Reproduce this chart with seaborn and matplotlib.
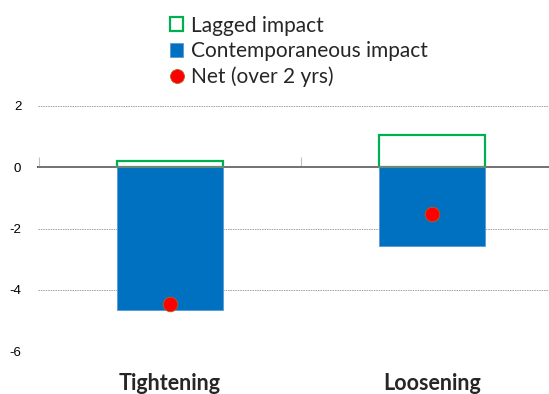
import matplotlib
matplotlib.use("Agg")
import matplotlib.pyplot as plt
from matplotlib.patches import Patch
from matplotlib.lines import Line2D
import seaborn as sns
import pandas as pd

categories = ["Tightening", "Loosening"]
contemporaneous = [-4.67, -2.58]
lagged = [0.20, 1.06]
net = [-4.47, -1.52]
y_ticks = [-6, -4, -2, 0, 2]

BLUE = "#0070C0"
GREEN = "#00B050"
RED = "#FF0000"

df = pd.DataFrame({"category": categories, "contemporaneous": contemporaneous,
                   "lagged": lagged, "net": net})

sns.set_theme(style="white")
plt.rcParams["font.family"] = ["Liberation Sans", "DejaVu Sans"]

fig = plt.figure(figsize=(5.49, 3.94), dpi=100)
ax = fig.add_axes([0.069, 0.109, 0.931, 0.622])

# dotted horizontal gridlines
for v in y_ticks:
    if v != 0:
        ax.axhline(v, color="#A0A0A0", lw=0.7, ls=(0, (1.5, 1)), zorder=0)

sns.barplot(data=df, x="category", y="contemporaneous", color=BLUE, width=0.405,
            saturation=1, edgecolor="#5B9BD5", linewidth=0.6, ax=ax, zorder=2)
sns.barplot(data=df, x="category", y="lagged", width=0.405, fill=False,
            color=GREEN, edgecolor=GREEN, linewidth=1.6, ax=ax, zorder=3)
sns.scatterplot(data=df, x="category", y="net", color=RED, s=110,
                edgecolor="#B06020", linewidth=0.6, ax=ax, zorder=5)

ax.axhline(0, color="#808080", lw=1.2, zorder=4)

ax.set_ylim(-6, 2)
ax.set_xlim(-0.504, 1.447)
ax.set_yticks(y_ticks)
ax.set_yticklabels([str(v) for v in y_ticks], fontsize=9.5, color="#000000")
ax.tick_params(axis="y", length=0, pad=12)
ax.set_xticks([0, 1])
ax.set_xticklabels(categories, fontsize=15.5, fontweight="bold",
                   family=["Lato", "DejaVu Sans"])
ax.tick_params(axis="x", length=0, pad=16)
ax.set_xlabel("")
ax.set_ylabel("")
for s in ax.spines.values():
    s.set_visible(False)

# category boundary ticks hanging from the zero line
sec = ax.secondary_xaxis(0.75)
sec.set_xticks([-0.5, 0.5, 1.5])
sec.set_xticklabels(["", "", ""])
sec.tick_params(axis="x", direction="out", length=7, width=0.8, color="#C0C0C0")
sec.spines["bottom"].set_visible(False)

handles = [
    Patch(facecolor="white", edgecolor=GREEN, linewidth=1.6, label="Lagged impact"),
    Patch(facecolor=BLUE, edgecolor="#5B9BD5", linewidth=0.6, label="Contemporaneous impact"),
    Line2D([], [], marker="o", ls="", markerfacecolor=RED, markeredgecolor="#B06020",
           markeredgewidth=0.6, markersize=10, label="Net (over 2 yrs)"),
]
fig.legend(handles=handles, loc="upper left", bbox_to_anchor=(0.283, 0.997),
           frameon=False, prop={"family": ["Lato", "DejaVu Sans"], "size": 15},
           handlelength=0.65, handleheight=0.65, handletextpad=0.35, labelspacing=0.26,
           borderaxespad=0.3)

fig.savefig("out.png", dpi=100)
